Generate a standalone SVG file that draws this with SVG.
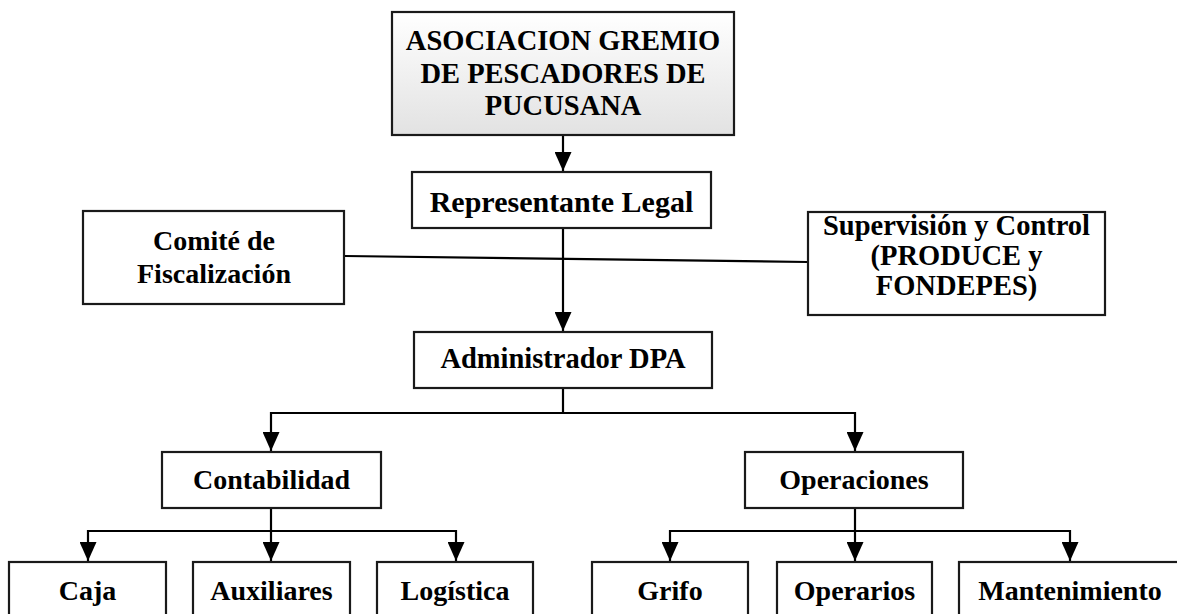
<svg xmlns="http://www.w3.org/2000/svg" width="1177" height="614" viewBox="0 0 1177 614">
<defs>
<linearGradient id="g1" x1="0" y1="0" x2="0" y2="1">
<stop offset="0" stop-color="#ffffff"/>
<stop offset="1" stop-color="#e2e2e2"/>
</linearGradient>
<marker id="arr" viewBox="0 0 19 17" refX="19" refY="8.5" markerWidth="19" markerHeight="17" markerUnits="userSpaceOnUse" orient="auto">
<path d="M0,0 L19,8.5 L0,17 z" fill="#000"/>
</marker>
<style>
.box{fill:#fff;stroke:#1a1a1a;stroke-width:2.2}
.t{font-family:"Liberation Serif","Times New Roman",serif;font-weight:bold;font-size:28px;fill:#000;text-anchor:middle}
.c{fill:none;stroke:#000;stroke-width:2.2}
.a{marker-end:url(#arr)}
</style>
</defs>
<rect width="1177" height="614" fill="#fff"/>
<g id="connectors">
<path class="c a" d="M563,135 V171"/>
<path class="c a" d="M563,228 V331"/>
<path class="c" d="M345,256 L808,262"/>
<path class="c" d="M563,388 V413"/>
<path class="c a" d="M563,413 H271 V451"/>
<path class="c a" d="M563,413 H855 V451"/>
<path class="c a" d="M271,508 V561"/>
<path class="c a" d="M271,531 H88 V561"/>
<path class="c a" d="M271,531 H456 V561"/>
<path class="c a" d="M855,508 V561"/>
<path class="c a" d="M855,531 H670 V561"/>
<path class="c a" d="M855,531 H1070 V561"/>
</g>
<g id="asociacion">
<rect x="392" y="12" width="342" height="123" fill="url(#g1)" stroke="#1a1a1a" stroke-width="2.2"/>
<text class="t" style="font-size:28.5px" x="563" y="50">ASOCIACION GREMIO</text>
<text class="t" style="font-size:28.5px" x="563" y="82.5">DE PESCADORES DE</text>
<text class="t" style="font-size:28.5px" x="563" y="115">PUCUSANA</text>
</g>
<g id="representante">
<rect class="box" x="412" y="172" width="299" height="56"/>
<text class="t" style="font-size:30px" x="561.5" y="212">Representante Legal</text>
</g>
<g id="comite">
<rect class="box" x="83" y="211" width="261" height="93"/>
<text class="t" x="214" y="250">Comité de</text>
<text class="t" x="214" y="283">Fiscalización</text>
</g>
<g id="supervision">
<rect class="box" x="808" y="212" width="297" height="103"/>
<text class="t" style="font-size:28.5px" x="956.5" y="235">Supervisión y Control</text>
<text class="t" style="font-size:28.5px" x="956.5" y="265">(PRODUCE y</text>
<text class="t" style="font-size:28.5px" x="956.5" y="295">FONDEPES)</text>
</g>
<g id="administrador">
<rect class="box" x="414" y="332" width="298" height="56"/>
<text class="t" style="font-size:28.5px" x="563" y="368">Administrador DPA</text>
</g>
<g id="contabilidad">
<rect class="box" x="162" y="452" width="219" height="56"/>
<text class="t" x="271.5" y="489">Contabilidad</text>
</g>
<g id="operaciones">
<rect class="box" x="745" y="452" width="218" height="56"/>
<text class="t" x="854" y="489">Operaciones</text>
</g>
<g id="caja">
<rect class="box" x="9" y="562" width="157" height="60"/>
<text class="t" x="87.5" y="600">Caja</text>
</g>
<g id="auxiliares">
<rect class="box" x="193" y="562" width="157" height="60"/>
<text class="t" x="271.5" y="600">Auxiliares</text>
</g>
<g id="logistica">
<rect class="box" x="377" y="562" width="156" height="60"/>
<text class="t" x="455" y="600">Logística</text>
</g>
<g id="grifo">
<rect class="box" x="592" y="562" width="156" height="60"/>
<text class="t" x="670" y="600">Grifo</text>
</g>
<g id="operarios">
<rect class="box" x="777" y="562" width="155" height="60"/>
<text class="t" x="854.5" y="600">Operarios</text>
</g>
<g id="mantenimiento">
<rect class="box" x="959" y="562" width="224" height="60"/>
<text class="t" x="1070" y="600">Mantenimiento</text>
</g>
</svg>
